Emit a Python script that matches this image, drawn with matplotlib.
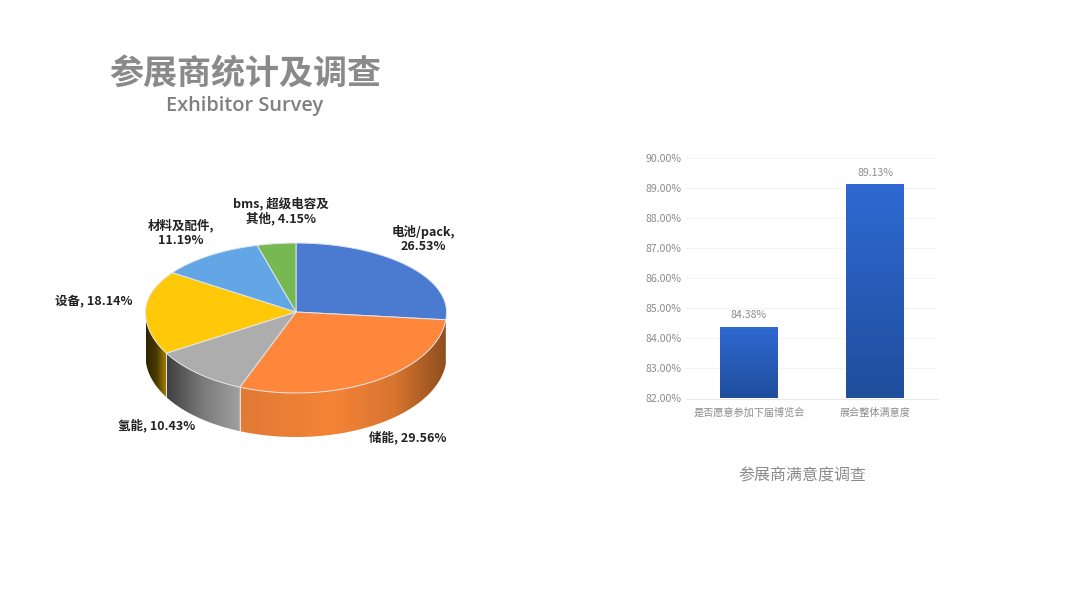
import numpy as np
import matplotlib
matplotlib.use("Agg")
import matplotlib.pyplot as plt
from matplotlib.colors import LinearSegmentedColormap
from matplotlib.patches import Polygon

plt.rcParams['font.family'] = ['Noto Sans CJK SC', 'DejaVu Sans']

# ---- data ----
pie_names = ['电池/pack', '储能', '氢能', '设备', '材料及配件', 'bms,超级电容及其他']
pie_values = [26.53, 29.56, 10.43, 18.14, 11.19, 4.15]
pie_colors = ['#4a7bd1', '#ff873b', '#adadad', '#ffc90a', '#63a6e5', '#76b852']
bar_names = ['是否愿意参加下届博览会', '展会整体满意度']
bar_values = [84.38, 89.13]
bar_ticks = [82, 83, 84, 85, 86, 87, 88, 89, 90]

W, H = 1080, 607
fig = plt.figure(figsize=(W / 100, H / 100), dpi=100, facecolor='white')
bg = fig.add_axes([0, 0, 1, 1])
bg.axis('off')

# ---- titles ----
bg.text(245, 73, '参展商统计及调查', fontsize=24.5, color='#8a8a8a', ha='center', va='center', fontweight='bold')
bg.text(245, 106, 'Exhibitor Survey', fontsize=14.4, color='#808080', ha='center', va='center',
        family='Open Sans', fontweight='semibold')
bg.text(802, 476, '参展商满意度调查', fontsize=11.5, color='#8a8a8a', ha='center', va='center')

# ---- pie ----
cx, cy, rx, ry_up, ry_dn, depth = 296, 312, 150.5, 69, 81, 44


def rim(deg):
    a = np.radians(deg)
    s, c = np.sin(a), np.cos(a)
    return cx + rx * s, cy - np.where(c > 0, ry_up, ry_dn) * c


side_stops = {
    1: ([0.0, 0.45, 0.75, 1.0], ['#e07a35', '#f58336', '#d8752f', '#8f4e1e']),
    2: ([0.0, 0.5, 1.0], ['#3e3e3e', '#7a7a7a', '#a0a0a0']),
    3: ([0.0, 0.5, 1.0], ['#2e2400', '#4a3a00', '#a88400']),
}
bounds = np.concatenate([[0], np.cumsum(pie_values)]) / np.sum(pie_values) * 360

# side wall: a horizontal gradient clipped to the wall of each slice
for i, (lo, hi) in enumerate(zip(bounds[:-1], bounds[1:])):
    lo2, hi2 = max(lo, 90), min(hi, 270)
    if hi2 <= lo2 or i not in side_stops:
        continue
    pos, cols = side_stops[i]
    cmap = LinearSegmentedColormap.from_list('s', list(zip(pos, cols)))
    ts = np.linspace(lo2, hi2, 200)
    xs, ys = rim(ts)
    pts = np.vstack([np.column_stack([xs, ys]), np.column_stack([xs[::-1], ys[::-1] + depth])])
    clip = Polygon(pts, closed=True, fc='none', ec='none', transform=bg.transData)
    bg.add_patch(clip)
    im = bg.imshow(np.linspace(0, 1, 256).reshape(1, -1), cmap=cmap, aspect='auto', zorder=2,
                   extent=[xs.min(), xs.max(), ys.max() + depth, ys.min()], vmin=0, vmax=1)
    im.set_clip_path(clip)
    if hi2 < 270:
        bg.plot([xs[-1], xs[-1]], [ys[-1], ys[-1] + depth], color='#e9e4d8', lw=0.7, zorder=3)

bg.set_xlim(0, W)
bg.set_ylim(H, 0)

# top faces
for lo, hi, col in zip(bounds[:-1], bounds[1:], pie_colors):
    ts = np.linspace(lo, hi, 120)
    xs, ys = rim(ts)
    pts = np.column_stack([np.r_[cx, xs], np.r_[cy, ys]])
    bg.add_patch(Polygon(pts, closed=True, fc=col, ec='#dfe6ee', lw=0.7, zorder=4))

label_spec = [
    (423, 239, '电池/pack,\n26.53%'),
    (408, 437, '储能, 29.56%'),
    (157, 425, '氢能, 10.43%'),
    (94, 301, '设备, 18.14%'),
    (181, 233, '材料及配件,\n11.19%'),
    (281, 211, 'bms, 超级电容及\n其他, 4.15%'),
]
for (x, y, s) in label_spec:
    bg.text(x, y, s, fontsize=9, fontweight='bold', color='#222222',
            ha='center', va='center', linespacing=1.15, zorder=6)

# ---- bar chart ----
x0, x1, ytop, ybot = 686, 938, 158, 398.5
ax = fig.add_axes([x0 / W, 1 - ybot / H, (x1 - x0) / W, (ybot - ytop) / H])
ax.patch.set_alpha(0)
for s in ax.spines.values():
    s.set_visible(False)
ax.spines['bottom'].set_visible(True)
ax.spines['bottom'].set_color('#e8e8e8')
ax.set_yticks(bar_ticks)
ax.set_yticklabels([f'{v:.2f}%' for v in bar_ticks], fontsize=7.6, color='#8c8c8c')
ax.set_xticks(range(len(bar_names)))
ax.set_xticklabels(bar_names, fontsize=7.3, color='#8c8c8c')
ax.tick_params(length=0)
ax.tick_params(axis='y', pad=3.5)
ax.tick_params(axis='x', pad=6.5)
ax.grid(axis='y', color='#f4f4f4', lw=0.8)
ax.set_axisbelow(True)

grad = LinearSegmentedColormap.from_list('b', ['#1f4e9c', '#2f69d2'])
bars = ax.bar(range(len(bar_names)), bar_values, width=0.46, color='none', zorder=3)
for rect, v in zip(bars, bar_values):
    xa, wd = rect.get_x(), rect.get_width()
    im = ax.imshow(np.linspace(1, 0, 256).reshape(-1, 1), extent=[xa, xa + wd, 82, v],
                   cmap=grad, aspect='auto', origin='upper', zorder=3, vmin=0, vmax=1)
    im.set_clip_path(rect)
    ax.text(xa + wd / 2, v + 0.22, f'{v:.2f}%', ha='center', va='bottom', fontsize=7.6, color='#8c8c8c')
ax.set_xlim(-0.5, 1.5)
ax.set_ylim(82, 90)

fig.savefig('out.png', dpi=100, facecolor='white')
